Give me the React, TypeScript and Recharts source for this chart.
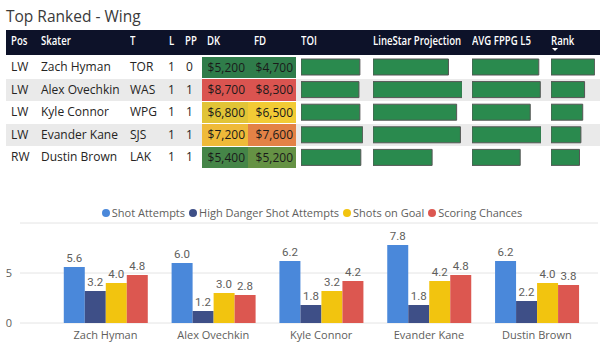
import { BarChart, Bar, XAxis, YAxis, CartesianGrid, Legend, LabelList } from "recharts";

const skaters = ["Zach Hyman", "Alex Ovechkin", "Kyle Connor", "Evander Kane", "Dustin Brown"];
const positions = ["LW", "LW", "LW", "LW", "RW"];
const teams = ["TOR", "WAS", "WPG", "SJS", "LAK"];
const lines = [1, 1, 1, 1, 1];
const powerPlay = [0, 1, 1, 1, 1];
const dkSalary = [5200, 8700, 6800, 7200, 5400];
const fdSalary = [4700, 8300, 6500, 7600, 5200];
const toi = [18.9, 18.6, 18.9, 19.8, 19.2];
const lineStarProjection = [12.0, 14.2, 13.3, 13.9, 9.4];
const avgFppgL5 = [13.3, 13.6, 11.6, 13.8, 9.6];
const rankScore = [95, 73, 69, 65, 62];

const shotAttempts = [5.6, 6.0, 6.2, 7.8, 6.2];
const highDangerShotAttempts = [3.2, 1.2, 1.8, 1.8, 2.2];
const shotsOnGoal = [4.0, 3.0, 3.2, 4.2, 4.0];
const scoringChances = [4.8, 2.8, 4.2, 4.8, 3.8];
const yTicks = [0, 5];

const series = [
  { key: "shotAttempts", name: "Shot Attempts", color: "#4a88da" },
  { key: "highDanger", name: "High Danger Shot Attempts", color: "#3e4f87" },
  { key: "shotsOnGoal", name: "Shots on Goal", color: "#f2c40f" },
  { key: "scoringChances", name: "Scoring Chances", color: "#dc5750" },
];

const chartData = skaters.map((name, i) => ({
  name,
  shotAttempts: shotAttempts[i],
  highDanger: highDangerShotAttempts[i],
  shotsOnGoal: shotsOnGoal[i],
  scoringChances: scoringChances[i],
}));

const FONT = "'Segoe UI', 'Open Sans', sans-serif";
const ROW_TOP = 56;
const ROW_H = 22.6;

// green -> yellow -> red colour scale like the Power BI conditional formatting
const GREEN = [47, 124, 74];
const YELLOW = [242, 203, 53];
const RED = [218, 84, 80];
function scaleColor(v: number, values: number[]) {
  const min = Math.min(...values);
  const max = Math.max(...values);
  const t = (v - min) / (max - min);
  const [a, b, u] = t < 0.5 ? [GREEN, YELLOW, t * 2] : [YELLOW, RED, (t - 0.5) * 2];
  const c = a.map((x, k) => Math.round(x + (b[k] - x) * u));
  return `rgb(${c[0]},${c[1]},${c[2]})`;
}

const money = (v: number) => "$" + v.toLocaleString("en-US");

const headers = [
  { label: "Pos", x: 11 },
  { label: "Skater", x: 41 },
  { label: "T", x: 130 },
  { label: "L", x: 169 },
  { label: "PP", x: 185 },
  { label: "DK", x: 207 },
  { label: "FD", x: 254 },
  { label: "TOI", x: 301 },
  { label: "LineStar Projection", x: 372.5 },
  { label: "AVG FPPG L5", x: 472 },
  { label: "Rank", x: 551 },
];

function DataBarColumn({ values, left, width }: { values: number[]; left: number; width: number }) {
  const data = values.map((v, i) => ({ name: skaters[i], value: v }));
  return (
    <div style={{ position: "absolute", left, top: ROW_TOP }}>
      <BarChart width={width} height={ROW_H * 5} data={data} layout="vertical" margin={{ top: 0, right: 0, bottom: 0, left: 0 }}>
        <XAxis type="number" hide domain={[0, "dataMax"]} />
        <YAxis type="category" dataKey="name" hide />
        <Bar dataKey="value" fill="#2a8a4e" stroke="#555" strokeWidth={1} barSize={16} isAnimationActive={false} />
      </BarChart>
    </div>
  );
}

const cellText = { position: "absolute" as const, fontSize: 12, color: "#252423", lineHeight: `${ROW_H}px` };

function LegendContent() {
  return (
    <div style={{ display: "flex", justifyContent: "center", fontFamily: FONT, fontSize: 11, color: "#605e5c", marginLeft: 30 }}>
      {series.map((s) => (
        <span key={s.key} style={{ display: "flex", alignItems: "center", marginRight: 4 }}>
          <span style={{ width: 8, height: 8, borderRadius: 4, background: s.color, marginRight: 2 }} />
          {s.name}
        </span>
      ))}
    </div>
  );
}

export default function App() {
  return (
    <div style={{ position: "absolute", left: 0, top: 0, width: 600, height: 351, background: "#fff", fontFamily: FONT, overflow: "hidden" }}>
      <div style={{ position: "absolute", left: 6, top: 5, fontSize: 15.5, color: "#3a3a3a", lineHeight: "22px" }}>Top Ranked - Wing</div>

      <div style={{ position: "absolute", left: 6, top: 30, width: 594, height: 25, background: "#0d1229" }} />
      {headers.map((h) => (
        <div
          key={h.label}
          style={{ position: "absolute", left: h.x, top: 29, lineHeight: "23px", fontSize: 12, fontWeight: 600, color: "#fff", whiteSpace: "nowrap", transform: "scaleX(0.8)", transformOrigin: "left center" }}
        >
          {h.label}
        </div>
      ))}
      <div style={{ position: "absolute", left: 551.5, top: 47.5, width: 0, height: 0, borderLeft: "3.5px solid transparent", borderRight: "3.5px solid transparent", borderTop: "3.5px solid #fff" }} />

      {skaters.map((name, i) => {
        const top = ROW_TOP + i * ROW_H;
        return (
          <div key={name}>
            {i % 2 === 1 && <div style={{ position: "absolute", left: 6, top, width: 594, height: ROW_H, background: "#eaeaea" }} />}
            <div style={{ ...cellText, left: 11, top }}>{positions[i]}</div>
            <div style={{ ...cellText, left: 41, top }}>{name}</div>
            <div style={{ ...cellText, left: 130, top }}>{teams[i]}</div>
            <div style={{ ...cellText, left: 168, top }}>{lines[i]}</div>
            <div style={{ ...cellText, left: 186, top }}>{powerPlay[i]}</div>
            <div style={{ ...cellText, left: 202, top: top + 0.5, width: 46, height: ROW_H - 1, lineHeight: `${ROW_H - 1}px`, background: scaleColor(dkSalary[i], dkSalary), textAlign: "right", paddingRight: 3, boxSizing: "border-box", color: "#1a1a1a" }}>
              {money(dkSalary[i])}
            </div>
            <div style={{ ...cellText, left: 248, top: top + 0.5, width: 48, height: ROW_H - 1, lineHeight: `${ROW_H - 1}px`, background: scaleColor(fdSalary[i], fdSalary), textAlign: "right", paddingRight: 3, boxSizing: "border-box", color: "#1a1a1a" }}>
              {money(fdSalary[i])}
            </div>
          </div>
        );
      })}

      <DataBarColumn values={toi} left={301} width={61.7} />
      <DataBarColumn values={lineStarProjection} left={372.7} width={89.3} />
      <DataBarColumn values={avgFppgL5} left={471.7} width={69.3} />
      <DataBarColumn values={rankScore} left={551.3} width={43.7} />

      <div style={{ position: "absolute", left: 0, top: 200 }}>
        <BarChart width={600} height={151} data={chartData} margin={{ top: 8, right: 2, bottom: 0, left: 0 }} barCategoryGap="11.3%" barGap={0}>
          <CartesianGrid vertical={false} stroke="#e4e4e4" />
          <XAxis
            dataKey="name"
            axisLine={false}
            tickLine={false}
            height={28}
            interval={0}
            padding={{ left: 31.6, right: 7.3 }}
            tick={{ fill: "#605e5c", fontSize: 11, fontFamily: FONT }}
          />
          <YAxis width={20} domain={[0, 10]} ticks={yTicks} axisLine={false} tickLine={false} tick={{ fill: "#605e5c", fontSize: 11, fontFamily: FONT }} />
          <Legend verticalAlign="top" content={<LegendContent />} wrapperStyle={{ top: 5 }} />
          {series.map((s) => (
            <Bar key={s.key} dataKey={s.key} name={s.name} fill={s.color} isAnimationActive={false}>
              <LabelList dataKey={s.key} position="top" fill="#605e5c" fontSize={11.5} fontFamily="Roboto, sans-serif" formatter={(v: any) => Number(v).toFixed(1)} />
            </Bar>
          ))}
        </BarChart>
      </div>
    </div>
  );
}
